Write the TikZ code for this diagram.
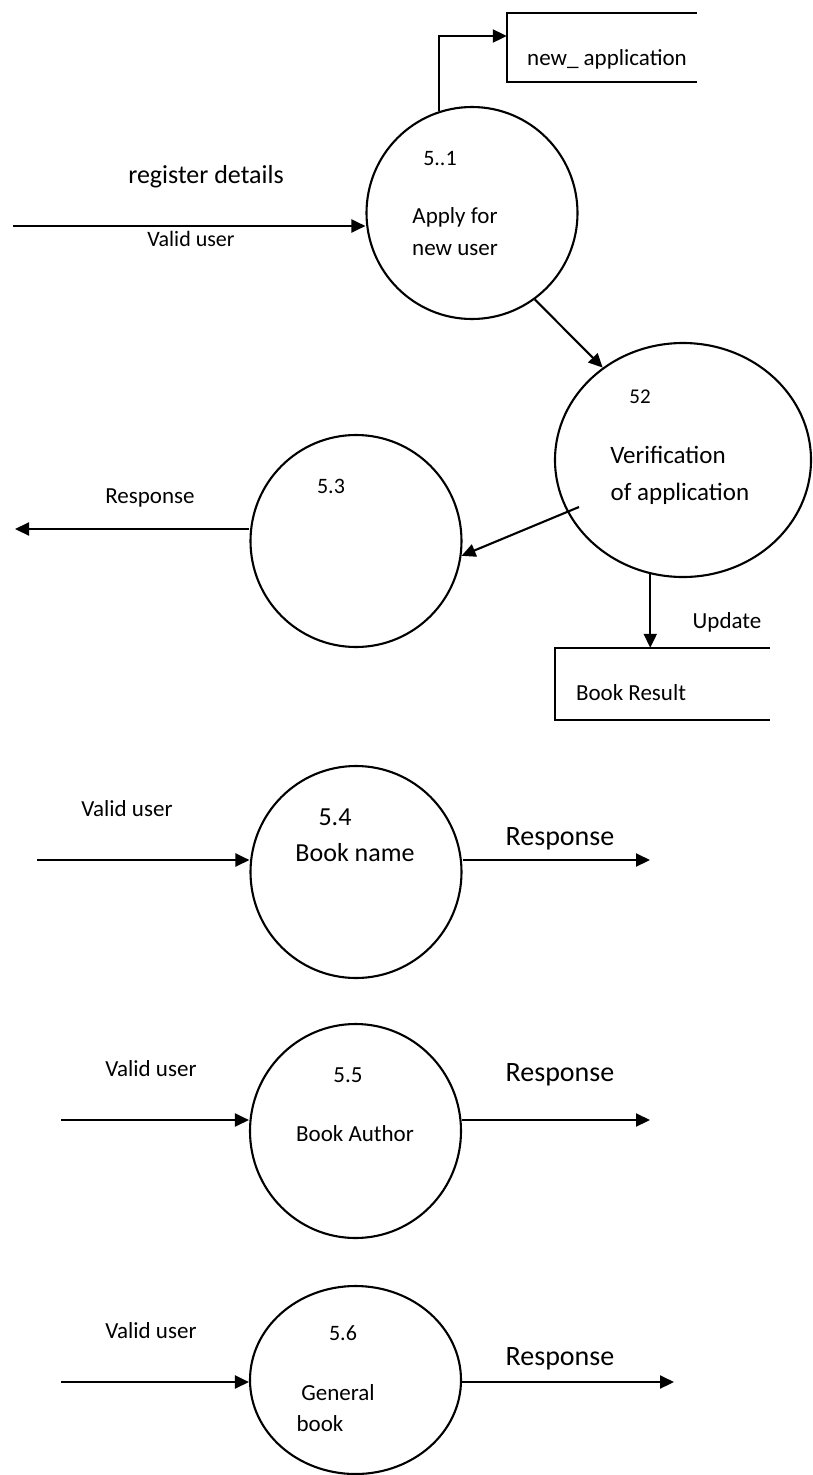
\documentclass[tikz,border=0pt]{standalone}
\usepackage{fontspec}
\setmainfont{Carlito}
\usetikzlibrary{arrows.meta,shapes.geometric}
\begin{document}
\begin{tikzpicture}[x=1pt,y=-1pt,
  proc/.style={ellipse, draw, line width=2.1pt, inner sep=0pt},
  storebox/.style={inner sep=0pt},
  storeline/.style={line width=2.1pt},
  flow/.style={line width=2.1pt, -{Triangle[length=14pt,width=13pt]}},
  txt/.style={inner sep=0pt, text height=1.4ex, text depth=0pt, font=\fontsize{#1}{#1}\selectfont}]
\useasboundingbox (0,0) rectangle (813,1475);

% processes
\node[proc, minimum width=211pt, minimum height=212pt] (c51) at (472,213) {};
\node[proc, minimum width=256pt, minimum height=234pt] (c52) at (683,460) {};
\node[proc, minimum width=211pt, minimum height=212pt] (c53) at (356,541) {};
\node[proc, minimum width=211pt, minimum height=212pt] (c54) at (356,872) {};
\node[proc, minimum width=211pt, minimum height=214pt] (c55) at (355.5,1131) {};
\node[proc, minimum width=211pt, minimum height=188pt] (c56) at (355.5,1380) {};

% data stores
\node[storebox, minimum width=190pt, minimum height=69pt] (na) at (602,47.5) {};
\draw[storeline] (na.north east) -- (na.north west) -- (na.south west) -- (na.south east);
\node[storebox, minimum width=215pt, minimum height=72pt] (br) at (662.5,684) {};
\draw[storeline] (br.north east) -- (br.north west) -- (br.south west) -- (br.south east);

% labels
\node[txt=22] (l51) at (440,162) {5..1};
\node[txt=23] (l51a) at (455,220) {Apply for};
\node[txt=23] (l51b) at (455,252) {new user};
\node[txt=23] (lna) at (607,62) {new\_ application};
\node[txt=26] (lreg) at (206,180) {register details};
\node[txt=22] (lvu1) at (191,243) {Valid user};
\node[txt=21] (l52) at (640,400) {52};
\node[txt=25] (l52a) at (668,460) {Verification};
\node[txt=25] (l52b) at (680,497) {of application};
\node[txt=22] (l53) at (331,490) {5.3};
\node[txt=23] (lr3) at (150,500) {Response};
\node[txt=23] (lupd) at (727,625) {Update};
\node[txt=23] (lbr) at (631,697) {Book Result};
\node[txt=23] (lvu4) at (127,813) {Valid user};
\node[txt=26] (l54) at (335,822) {5.4};
\node[txt=26] (l54a) at (355,858) {Book name};
\node[txt=28] (lr4) at (560,842) {Response};
\node[txt=23] (lvu5) at (151,1073) {Valid user};
\node[txt=23] (l55) at (348,1079) {5.5};
\node[txt=23] (l55a) at (355,1138) {Book Author};
\node[txt=28] (lr5) at (560,1078) {Response};
\node[txt=23] (lvu6) at (151,1335) {Valid user};
\node[txt=22] (l56) at (343,1337) {5.6};
\node[txt=23] (l56a) at (338,1397) {General};
\node[txt=23] (l56b) at (320,1428) {book};
\node[txt=28] (lr6) at (560,1362) {Response};

% free ends
\coordinate (in1) at (13,226);
\coordinate (out3) at (15,529);
\coordinate (s52) at (579,507);
\coordinate (in4) at (37,860);
\coordinate (out4) at (650,860);
\coordinate (in5) at (61,1120);
\coordinate (out5) at (650,1120);
\coordinate (in6) at (61,1382);
\coordinate (out6) at (674,1382);

% flows
\draw[flow] (in1) -- (in1 -| c51.west);
\draw[flow] (c51.108.8) |- ([yshift=11.5pt]na.west);
\draw[flow] (c51.-54) -- (c52.131);
\draw[flow] (s52) -- (c53.-8);
\draw[flow] (c52.-106.7) -- (c52.-106.7 |- br.north);
\draw[flow] (c53.west |- out3) -- (out3);
\draw[flow] (in4) -- (in4 -| c54.west);
\draw[flow] (out4 -| c54.east) -- (out4);
\draw[flow] (in5) -- (in5 -| c55.west);
\draw[flow] (out5 -| c55.east) -- (out5);
\draw[flow] (in6) -- (in6 -| c56.west);
\draw[flow] (out6 -| c56.east) -- (out6);
\end{tikzpicture}
\end{document}
